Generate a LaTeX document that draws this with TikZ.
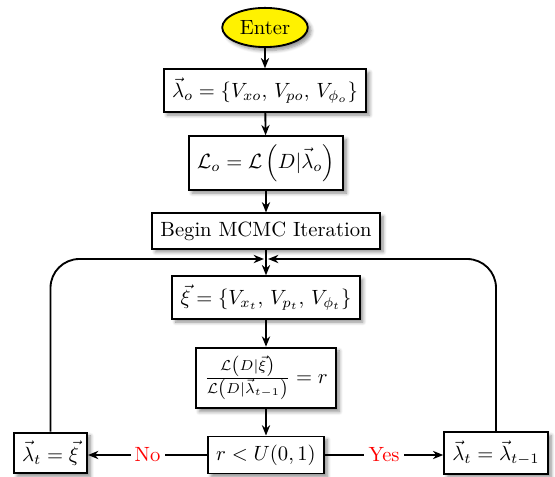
\documentclass[tikz,border=0pt]{standalone}
\usetikzlibrary{shapes.geometric,arrows.meta,shadows.blur}

\tikzset{
  flowbox/.style={draw=black, line width=0.9pt, fill=white, inner xsep=4pt, inner ysep=4pt,
    blur shadow={shadow blur steps=6, shadow xshift=1.6pt, shadow yshift=-1.6pt, shadow opacity=45}},
  startnode/.style={ellipse, draw=black, line width=0.9pt, fill=yellow, inner sep=0pt,
    minimum width=41.5pt, minimum height=19pt,
    blur shadow={shadow blur steps=6, shadow xshift=1.6pt, shadow yshift=-1.6pt, shadow opacity=45}},
  flow/.style={line width=0.9pt, -{Stealth[length=5pt,width=4pt]}},
  plain/.style={line width=0.9pt},
  decision/.style={fill=white, text=red, inner sep=2pt}
}

\begin{document}
\begin{tikzpicture}[x=0.485pt, y=-0.485pt]
  \useasboundingbox (0,0) rectangle (555,477);

  % main column
  \node[startnode] (enter) at (265,27.5) {Enter};
  \node[flowbox] (init) at (265,90.5) {$\vec{\lambda}_o = \{V_{xo},\, V_{po},\, V_{\phi_o}\}$};
  \node[flowbox] (like) at (266,163) {$\mathcal{L}_o = \mathcal{L}\left(D|\vec{\lambda}_o\right)$};
  \node[flowbox] (begin) at (266,231) {Begin MCMC Iteration};
  \coordinate (merge) at (266,259);
  \node[flowbox] (prop) at (266,297.5) {$\vec{\xi} = \{V_{x_t},\, V_{p_t},\, V_{\phi_t}\}$};
  \node[flowbox] (ratio) at (266,378) {$\frac{\mathcal{L}\left(D|\vec{\xi}\right)}{\mathcal{L}\left(D|\vec{\lambda}_{t-1}\right)} = r$};
  \node[flowbox] (test) at (266,455) {$r < U(0,1)$};

  % outcomes
  \node[flowbox] (reject) at (50.5,453) {$\vec{\lambda}_t = \vec{\xi}$};
  \node[flowbox] (accept) at (496,453) {$\vec{\lambda}_t = \vec{\lambda}_{t-1}$};

  % connectors
  \draw[flow] (enter) -- (init);
  \draw[flow] (init) -- (like);
  \draw[flow] (like) -- (begin);
  \draw[flow] (begin) -- (prop);
  \draw[flow] (prop) -- (ratio);
  \draw[flow] (ratio) -- (test);

  \draw[flow] (test.west) -- node[decision] (no) {No} (reject.east |- test.west);
  \draw[flow] (test.east) -- node[decision] (yes) {Yes} (accept.west |- test.east);

  % loops back to the start of the iteration
  \draw[flow, rounded corners=14pt] (reject.north) -- (reject.north |- merge) -- ([xshift=-1pt]merge);
  \draw[flow, rounded corners=14pt] (accept.north) -- (accept.north |- merge) -- ([xshift=1pt]merge);
\end{tikzpicture}
\end{document}
